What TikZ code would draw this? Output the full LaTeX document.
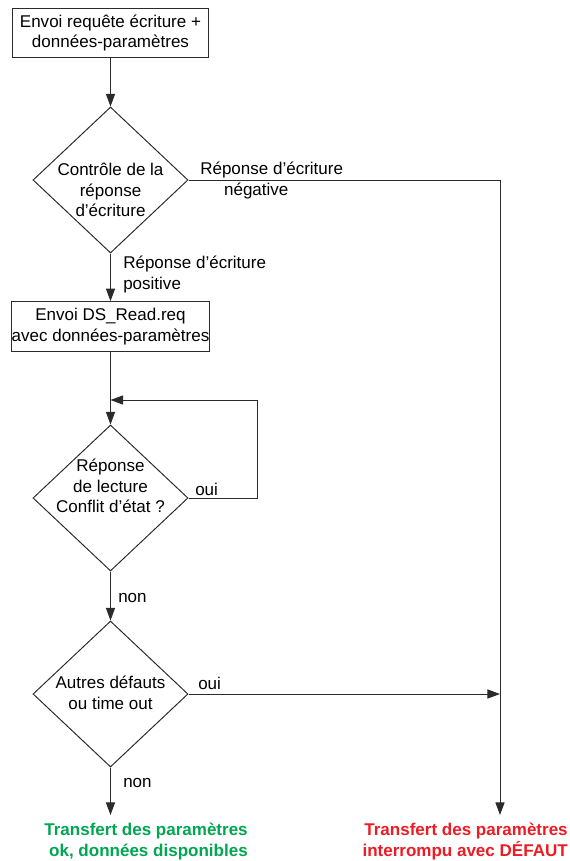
\documentclass[tikz,border=0pt]{standalone}
\usepackage{fontspec}
\setmainfont{Liberation Sans}
\usepackage{tikz}
\usetikzlibrary{positioning,arrows.meta,shapes.geometric}
\definecolor{okgreen}{HTML}{00A651}
\definecolor{errred}{HTML}{ED1C24}
\definecolor{linegray}{HTML}{2B2B2B}

\begin{document}
\begin{tikzpicture}[x=0.025cm,y=-0.025cm,
    every node/.style={font=\fontsize{12.1}{14.6}\selectfont,inner sep=0pt},
    flow/.style={draw=linegray,line width=0.7pt},
    arr/.style={flow,-{Triangle[length=9pt,width=6.5pt]}},
    procbox/.style={draw=linegray,line width=0.7pt,minimum width=4.9cm,minimum height=1.24cm,align=center},
    decision/.style={diamond,draw=linegray,line width=0.7pt,minimum width=3.875cm,minimum height=3.65cm},
    dtext/.style={align=center,anchor=north},
    lbl/.style={anchor=base west},
    endtext/.style={align=right,anchor=north east,font=\fontsize{12.1}{14.6}\selectfont\bfseries}]
  \useasboundingbox (0,0) rectangle (570,861);
  % process boxes and decisions
  \node[procbox] (send) at (110.5,33) {Envoi requête écriture +\\données-paramètres};
  \node[decision] (chkW) at (110.5,180) {};
  \node[dtext] (chkWtxt) at (110.5,163) {Contrôle de la\\réponse\\d’écriture};
  \node[procbox] (read) at (110.5,326.5) {Envoi DS\_Read.req\\avec données-paramètres};
  \node[decision] (chkR) at (110.5,498) {};
  \node[dtext] (chkRtxt) at (110.5,459) {Réponse\\de lecture\\Conflit d’état ?};
  \node[decision] (chkF) at (110.5,694) {};
  \node[dtext] (chkFtxt) at (110.5,676) {Autres défauts\\ou time out};
  % end points
  \coordinate (loopIn) at (110.5,400);
  \coordinate (errJoin) at (500,694);
  \coordinate (errEnd) at (500,815);
  \coordinate (okEnd) at (110.5,815);
  \node[endtext,text=okgreen] (okMsg) at (248,823) {Transfert des paramètres\\ok, données disponibles};
  \node[endtext,text=errred] (errMsg) at (568,823) {Transfert des paramètres\\interrompu avec DÉFAUT};
  % connectors
  \draw[arr] (send.south) -- (chkW.north);
  \draw[arr] (chkW.east) -| (errEnd);
  \draw[arr] (chkW.south) -- (read.north);
  \draw[arr] (read.south) -- (chkR.north);
  \draw[arr] (chkR.east) -- ++(69,0) |- (loopIn);
  \draw[arr] (chkR.south) -- (chkF.north);
  \draw[arr] (chkF.east) -- (errJoin);
  \draw[arr] (chkF.south) -- (okEnd);
  % branch labels
  \node[anchor=north west,align=left] (negLbl) at (200,162) {Réponse d’écriture\\\hspace*{1.4em}négative};
  \node[anchor=north west,align=left] (posLbl) at (123,256) {Réponse d’écriture\\positive};
  \node[lbl] (ouiR) at (195,495) {oui};
  \node[lbl] (nonR) at (118,602) {non};
  \node[lbl] (ouiF) at (198,689) {oui};
  \node[lbl] (nonF) at (123,787) {non};
\end{tikzpicture}
\end{document}
